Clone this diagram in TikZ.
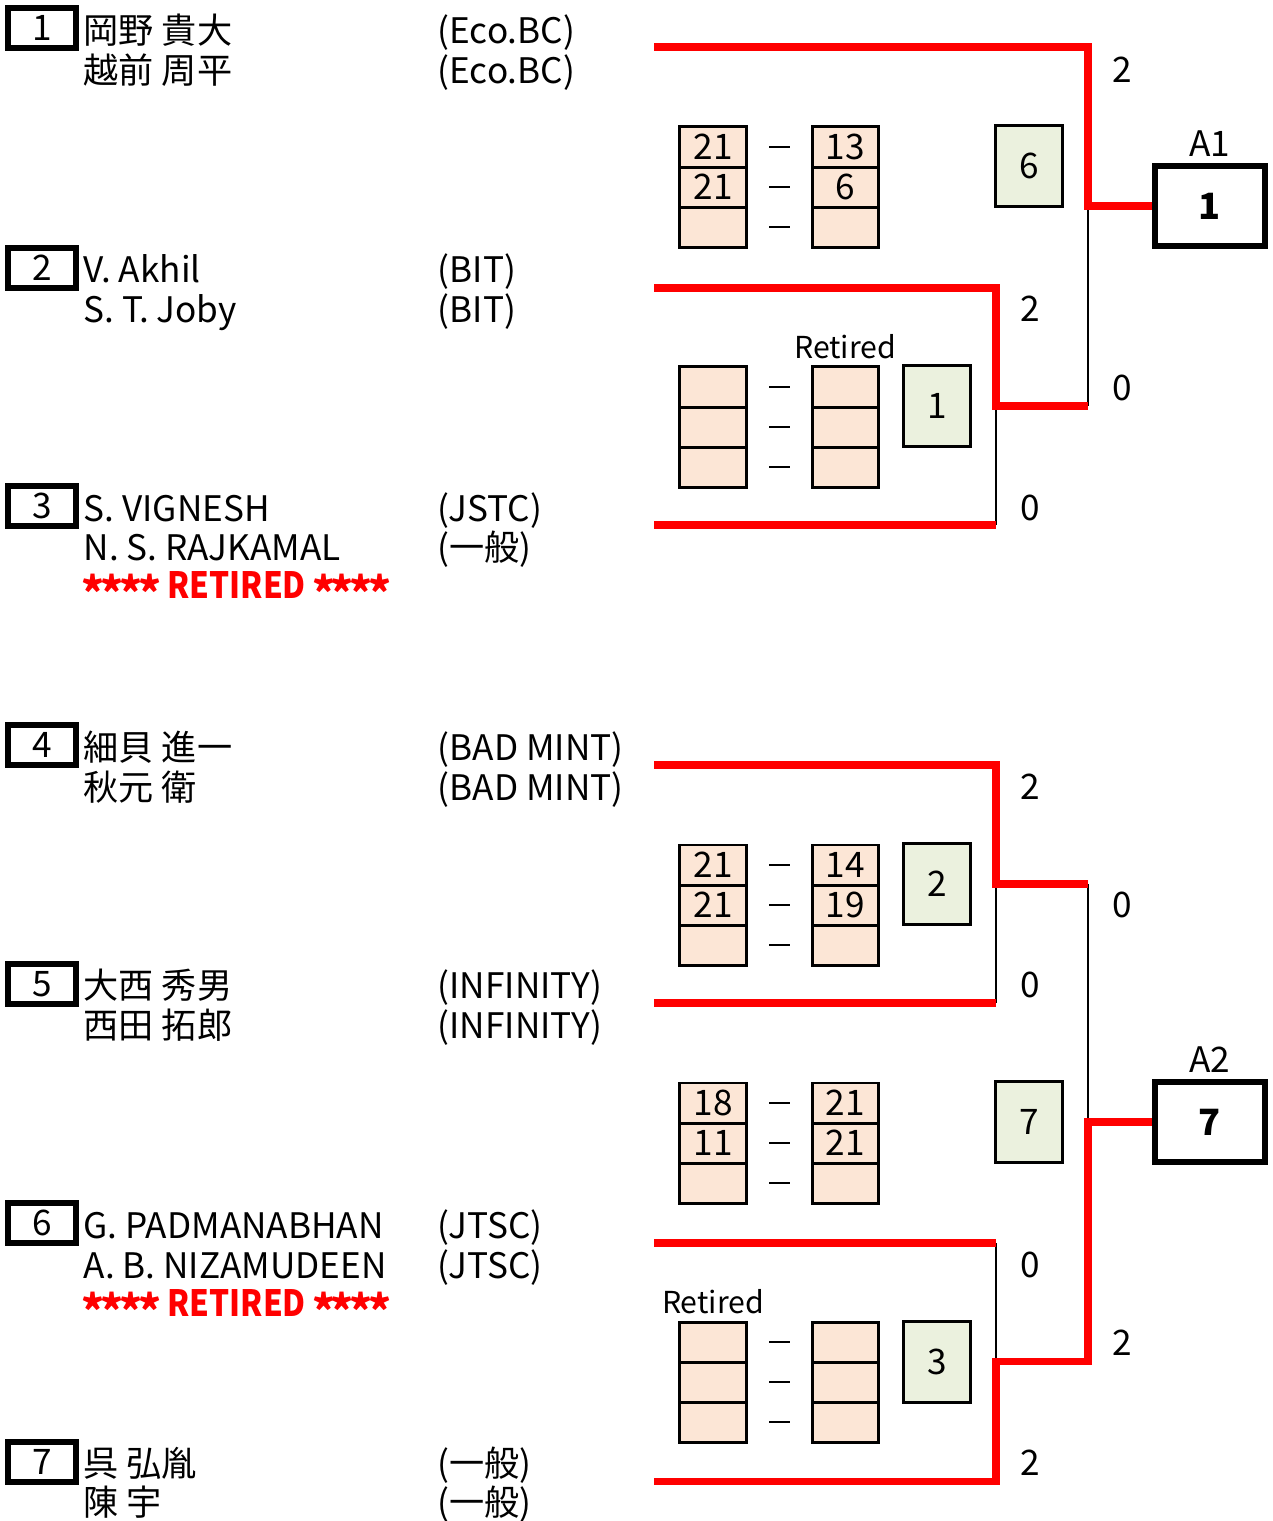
\documentclass[tikz,border=0pt]{standalone}
\usepackage{fontspec}
\usepackage{graphicx}
\setmainfont{Noto Sans CJK JP}
\usetikzlibrary{positioning,backgrounds}
\definecolor{cellfill}{HTML}{FCE6D6}
\definecolor{resfill}{HTML}{EBF1DE}
\definecolor{winred}{HTML}{FF0000}
% three game rows of one match: left score, right score
\def\scoreblock(#1)[#2]#3#4#5#6{%
  \node[cell] (#2l1) at (#1) {#3};
  \node[cell, right=0.66cm of #2l1] (#2r1) {#4};
  \node[cell, below=0pt of #2l1] (#2l2) {#5};
  \node[cell, below=0pt of #2r1] (#2r2) {#6};
  \node[cell, below=0pt of #2l2] (#2l3) {};
  \node[cell, below=0pt of #2r2] (#2r3) {};
  \path (#2l1) -- node[dashmark] {} (#2r1);
  \path (#2l2) -- node[dashmark] {} (#2r2);
  \path (#2l3) -- node[dashmark] {} (#2r3);
}
\def\bigstar{\makebox[0.52em]{\raisebox{-0.32em}{\scalebox{1.2}{*}}}}
\def\retiredline{\bigstar\bigstar\bigstar\bigstar{} \scalebox{0.87}[1]{RETIRED} \bigstar\bigstar\bigstar\bigstar}
\tikzset{
  seedbox/.style={draw, line width=1.5pt, minimum width=0.68cm, minimum height=0.4cm},
  player/.style={anchor=base west},
  retiredmark/.style={anchor=base west, text=winred, font=\fontsize{10.3pt}{12pt}\selectfont\bfseries},
  cell/.style={draw, fill=cellfill, line width=0.85pt, outer sep=0pt, minimum width=0.66cm, minimum height=0.4cm},
  result/.style={draw, fill=resfill, line width=0.85pt, minimum width=0.66cm, minimum height=0.8cm},
  finalbox/.style={draw, line width=1.5pt, minimum width=1.1cm, minimum height=0.8cm, font=\fontsize{10.3pt}{12pt}\selectfont\bfseries},
  dashmark/.style={fill=black, minimum width=0.21cm, minimum height=0.028cm},
  note/.style={font=\fontsize{8.6pt}{10pt}\selectfont},
  winline/.style={draw=winred, line width=2pt},
  loseline/.style={draw=black, line width=0.7pt},
}
\begin{document}
\begin{tikzpicture}[x=0.01cm, y=-0.01cm, every node/.style={font=\fontsize{10pt}{12pt}\selectfont, inner sep=0pt}]
  \useasboundingbox (0,0) rectangle (1272,1521);

  %%%%% ENTRIES %%%%%
  \node[seedbox] (s1) at (42,28) {1};
  \node[player] (p1a) at (83,43) {岡野 貴大};
  \node[player] (p1b) at (83,83) {越前 周平};
  \node[player] (c1a) at (437,43) {(Eco.BC)};
  \node[player] (c1b) at (437,83) {(Eco.BC)};

  \node[seedbox] (s2) at (42,268) {2};
  \node[player] (p2a) at (83,282) {V. Akhil};
  \node[player] (p2b) at (83,322) {S. T. Joby};
  \node[player] (c2a) at (437,282) {(BIT)};
  \node[player] (c2b) at (437,322) {(BIT)};

  \node[seedbox] (s3) at (42,506) {3};
  \node[player] (p3a) at (83,521) {S. VIGNESH};
  \node[player] (p3b) at (83,560) {N. S. RAJKAMAL};
  \node[retiredmark] (r3) at (83,598) {\retiredline};
  \node[player] (c3a) at (437,521) {(JSTC)};
  \node[player] (c3b) at (437,560) {(一般)};

  \node[seedbox] (s4) at (42,745) {4};
  \node[player] (p4a) at (83,760) {細貝 進一};
  \node[player] (p4b) at (83,800) {秋元 衛};
  \node[player] (c4a) at (437,760) {(BAD MINT)};
  \node[player] (c4b) at (437,800) {(BAD MINT)};

  \node[seedbox] (s5) at (42,984) {5};
  \node[player] (p5a) at (83,998) {大西 秀男};
  \node[player] (p5b) at (83,1038) {西田 拓郎};
  \node[player] (c5a) at (437,998) {(INFINITY)};
  \node[player] (c5b) at (437,1038) {(INFINITY)};

  \node[seedbox] (s6) at (42,1223) {6};
  \node[player] (p6a) at (83,1238) {G. PADMANABHAN};
  \node[player] (p6b) at (83,1278) {A. B. NIZAMUDEEN};
  \node[retiredmark] (r6) at (83,1316) {\retiredline};
  \node[player] (c6a) at (437,1238) {(JTSC)};
  \node[player] (c6b) at (437,1278) {(JTSC)};

  \node[seedbox] (s7) at (42,1462) {7};
  \node[player] (p7a) at (83,1476) {呉 弘胤};
  \node[player] (p7b) at (83,1515) {陳 宇};
  \node[player] (c7a) at (437,1476) {(一般)};
  \node[player] (c7b) at (437,1515) {(一般)};

  %%%%% SCORES %%%%%
  \scoreblock(713,147)[ma]{21}{13}{21}{6}
  \node[result] (ra) at (1029,166) {6};
  \scoreblock(713,387)[mb]{}{}{}{}
  \node[result] (rb) at (937,406) {1};
  \node[note, above=0.07cm of mbr1] (tb) {Retired};
  \scoreblock(713,865)[mc]{21}{14}{21}{19}
  \node[result] (rc) at (937,884) {2};
  \scoreblock(713,1103)[md]{18}{21}{11}{21}
  \node[result] (rd) at (1029,1122) {7};
  \scoreblock(713,1342)[me]{}{}{}{}
  \node[result] (re) at (937,1362) {3};
  \node[note, above=0.07cm of mel1] (te) {Retired};

  %%%%% WINNERS %%%%%
  \node[finalbox] (A1) at (1210,206) {1};
  \node[above=0.06cm of A1] (A1t) {A1};
  \node[finalbox] (A2) at (1210,1122) {7};
  \node[above=0.06cm of A2] (A2t) {A2};

  %%%%% BRACKET %%%%%
  \coordinate (t1) at (654,47);
  \coordinate (t2) at (654,288);
  \coordinate (t3) at (654,525);
  \coordinate (t4) at (654,765);
  \coordinate (t5) at (654,1003);
  \coordinate (t6) at (654,1243);
  \coordinate (t7) at (654,1481);
  \coordinate (j1) at (1088,206);
  \coordinate (j2) at (996,406);
  \coordinate (j4) at (996,884);
  \coordinate (j5) at (1088,1122);
  \coordinate (j6) at (996,1361);

  \begin{scope}[on background layer]
    \draw[loseline] (j2 -| j1) -- (j1);
    \draw[loseline] (t3 -| j2) -- (j2);
    \draw[winline] (t1) -| (j1) -- (A1.west);
    \draw[winline] (t2) -| (j2) -- (j2 -| j1);
    \draw[winline] (t3) -- (t3 -| j2);

    \draw[loseline] (j4 -| j5) -- (j5);
    \draw[loseline] (t5 -| j4) -- (j4);
    \draw[loseline] (t6 -| j6) -- (j6);
    \draw[winline] (t4) -| (j4) -- (j4 -| j5);
    \draw[winline] (t5) -- (t5 -| j4);
    \draw[winline] (t6) -- (t6 -| j6);
    \draw[winline] (A2.west) -- (j5) |- (j6) |- (t7);
  \end{scope}

  %%%%% GAME COUNTS %%%%%
  \node (g1) at (1122,70) {2};
  \node (g2) at (1030,309) {2};
  \node (g3) at (1122,388) {0};
  \node (g4) at (1030,508) {0};
  \node (g5) at (1030,787) {2};
  \node (g6) at (1122,905) {0};
  \node (g7) at (1030,985) {0};
  \node (g8) at (1030,1265) {0};
  \node (g9) at (1122,1343) {2};
  \node (g10) at (1030,1463) {2};
\end{tikzpicture}
\end{document}
